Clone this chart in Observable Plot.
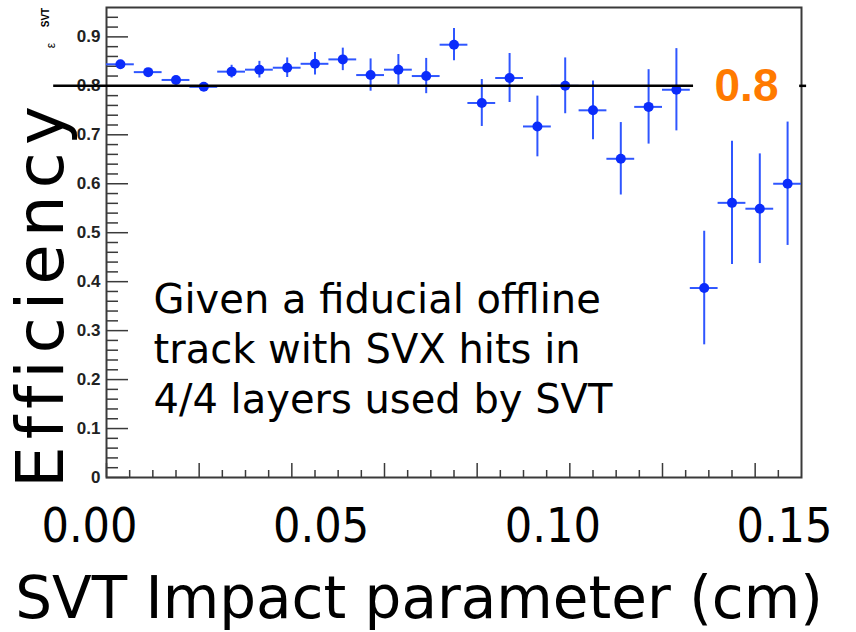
<!DOCTYPE html>
<html>
<head>
<meta charset="utf-8">
<script src="https://cdn.jsdelivr.net/npm/d3@7"></script>
<script src="https://cdn.jsdelivr.net/npm/@observablehq/plot@0.6"></script>
<style>
html, body { margin: 0; padding: 0; background: #fff; }
#chart svg { display: block; }
</style>
</head>
<body>
<div id="chart"></div>
<script>
// ---- data ----
const binCenters = [0.003, 0.009, 0.015, 0.021, 0.027, 0.033, 0.039, 0.045, 0.051, 0.057,
                    0.063, 0.069, 0.075, 0.081, 0.087, 0.093, 0.099, 0.105, 0.111, 0.117,
                    0.123, 0.129, 0.135, 0.141, 0.147];
const efficiency = [0.844, 0.828, 0.812, 0.798, 0.829, 0.833, 0.837, 0.845, 0.854, 0.822,
                    0.833, 0.820, 0.884, 0.765, 0.816, 0.717, 0.800, 0.750, 0.651, 0.757,
                    0.792, 0.387, 0.561, 0.549, 0.600];
const effError   = [0.007, 0.006, 0.007, 0.007, 0.013, 0.017, 0.020, 0.023, 0.023, 0.033,
                    0.031, 0.036, 0.033, 0.048, 0.050, 0.062, 0.057, 0.060, 0.074, 0.076,
                    0.084, 0.116, 0.126, 0.112, 0.126];
const binHalfWidth = 0.003;

const yMajorTicks = [0, 0.1, 0.2, 0.3, 0.4, 0.5, 0.6, 0.7, 0.8, 0.9];
const yMinorTicks = d3.range(0, 0.95, 0.02).filter(v => Math.abs(v * 10 - Math.round(v * 10)) > 1e-6);
const xMajorTicks = [0, 0.02, 0.04, 0.06, 0.08, 0.10, 0.12, 0.14];
const xMinorTicks = d3.range(0, 0.15, 0.005).filter(v => Math.abs(v * 50 - Math.round(v * 50)) > 1e-6);
const xLabelTicks = [0, 0.05, 0.10, 0.15];
const xLabelText  = ["0.00", "0.05", "0.10", "0.15"];

const refLevel = 0.8;
const refLabel = "0.8";
const refSegStart = [-0.0114, 0.1496];
const refSegEnd   = [0.1267, 0.1511];

const yTitle = "Efficiency";
const xTitle = "SVT Impact parameter (cm)";
const note = "Given a fiducial offline\ntrack with SVX hits in\n4/4 layers used by SVT";

// ---- tables built from the arrays ----
const points = binCenters.map((x, i) => ({x, y: efficiency[i], e: effError[i]}));
const refSegments = refSegStart.map((x1, i) => ({x1, x2: refSegEnd[i], y: refLevel}));

const FONT = "DejaVu Sans";
const BAR = "#2f56ff";
const DOT = "#0b2cfb";
const AX = "#3a3a3a";

const chart = Plot.plot({
  width: 856,
  height: 632,
  marginLeft: 106,
  marginRight: 55,
  marginTop: 7,
  marginBottom: 155,
  x: {domain: [0, 0.15]},
  y: {domain: [0, 0.96]},
  marks: [
    // axes ticks (inward)
    Plot.axisY(yMinorTicks, {tickSize: -12, tickFormat: () => "", label: null, stroke: AX, strokeWidth: 1.5}),
    Plot.axisY(yMajorTicks, {tickSize: -22, tickFormat: () => "", label: null, stroke: AX, strokeWidth: 1.5}),
    Plot.axisY(yMajorTicks, {tickSize: 0, tickPadding: 6, label: null, fontSize: 17, fontWeight: "bold",
      fontFamily: "Liberation Sans", fill: "#222", tickFormat: d => d === 0 ? "0" : d.toFixed(1)}),
    Plot.axisX(xMinorTicks, {tickSize: -7, tickFormat: () => "", label: null, stroke: AX, strokeWidth: 1.5}),
    Plot.axisX(xMajorTicks, {tickSize: -14, tickFormat: () => "", label: null, stroke: AX, strokeWidth: 1.5}),
    Plot.axisX(xLabelTicks, {tickSize: 0, tickPadding: 30, label: null, fontSize: 48,
      fontFamily: "DejaVu Sans Condensed, DejaVu Sans", fill: "#000", dx: -17,
      tickFormat: d => xLabelText[xLabelTicks.indexOf(d)]}),
    Plot.frame({stroke: AX, strokeWidth: 2}),
    // error bars
    Plot.ruleX(points, {x: "x", y1: d => d.y - d.e, y2: d => d.y + d.e, stroke: BAR, strokeWidth: 2}),
    Plot.ruleY(points, {y: "y", x1: d => d.x - binHalfWidth, x2: d => d.x + binHalfWidth, stroke: BAR, strokeWidth: 2}),
    Plot.dot(points, {x: "x", y: "y", r: 5, fill: DOT, stroke: "none"}),
    // reference line
    Plot.ruleY(refSegments, {y: "y", x1: "x1", x2: "x2", stroke: "#000", strokeWidth: 2.5}),
    Plot.text([refLevel], {y: d => d, text: () => refLabel, frameAnchor: "right", dx: -55,
      textAnchor: "middle", lineAnchor: "middle", fontSize: 46, fontWeight: "bold",
      fontFamily: "Liberation Sans", fill: "#ff7a00"}),
    // titles and notes
    Plot.text([yTitle], {text: d => d, frameAnchor: "left", rotate: -90, textAnchor: "middle",
      lineAnchor: "bottom", dx: -44, dy: 51, fontSize: 66, fontFamily: FONT, fill: "#000"}),
    Plot.text(["ε"], {text: d => d, frameAnchor: "top-left", rotate: -90, textAnchor: "middle",
      lineAnchor: "bottom", dx: -52, dy: 38, fontSize: 12, fontFamily: "Liberation Sans", fill: "#000"}),
    Plot.text(["SVT"], {text: d => d, frameAnchor: "top-left", rotate: -90, textAnchor: "middle",
      lineAnchor: "bottom", dx: -58, dy: 10, fontSize: 10, fontWeight: "bold", fontFamily: "Liberation Sans", fill: "#000"}),
    Plot.text([xTitle], {text: d => d, frameAnchor: "bottom", textAnchor: "middle", lineAnchor: "bottom",
      dx: -35, dy: 140, fontSize: 58, fontFamily: FONT, fill: "#000"}),
    Plot.text([note], {text: d => d, frameAnchor: "top-left", textAnchor: "start", lineAnchor: "top",
      dx: 47, dy: 269.5, fontSize: 40, lineHeight: 1.25, fontFamily: FONT, fill: "#000"})
  ]
});

chart.querySelectorAll("text").forEach(t => {
  if (t.textContent === yTitle) t.style.letterSpacing = "7px";
});
document.getElementById("chart").appendChild(chart);
</script>
</body>
</html>
